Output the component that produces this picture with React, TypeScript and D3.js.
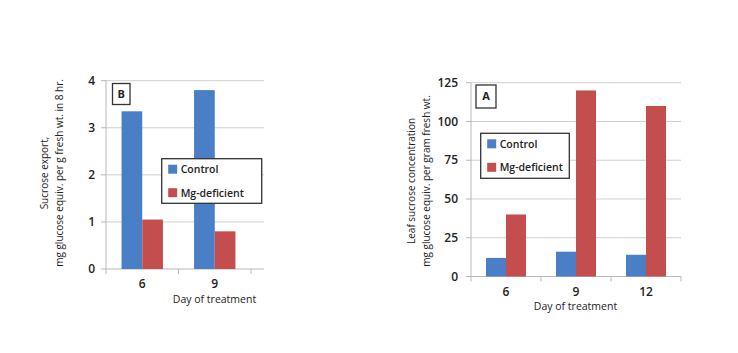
import React from "react";
import * as d3 from "d3";

const daysB = ["6", "9"];
const controlB = [3.35, 3.8];
const mgB = [1.05, 0.8];
const ticksB = [0, 1, 2, 3, 4];

const daysA = ["6", "9", "12"];
const controlA = [12, 16, 14];
const mgA = [40, 120, 110];
const ticksA = [0, 25, 50, 75, 100, 125];

const seriesNames = ["Control", "Mg-deficient"];
const BLUE = "#4a7ec6";
const RED = "#c44d4d";
const FONT = "'Open Sans', Lato, sans-serif";
const GRID = "#cfcfcf";
const AXIS = "#b8b8b8";
const TEXT = "#222";

type PanelProps = {
  days: string[];
  control: number[];
  mg: number[];
  ticks: number[];
  yMax: number;
  x0: number;
  x1: number;
  gridEnd: number;
  yTop: number;
  yBottom: number;
  barW: number;
  letter: string;
  letterBox: [number, number, number, number];
  legendBox: [number, number, number, number];
  yLabel: string[];
  yLabelX: [number, number];
  yLabelY: number;
  tickLabelX: number;
  xTickY: number;
  xTitleX: number;
  xTitleY: number;
};

function Panel(p: PanelProps) {
  const x = d3.scaleBand<string>().domain(p.days).range([p.x0, p.x1]).padding(0);
  const y = d3.scaleLinear().domain([0, p.yMax]).range([p.yBottom, p.yTop]);
  const bounds = [p.x0, ...p.days.map((d) => (x(d) as number) + x.bandwidth())];
  const [lx, ly, lw, lh] = p.legendBox;
  const [bx, by, bw, bh] = p.letterBox;
  return (
    <g>
      {p.ticks.map((t) => (
        <g key={t}>
          {t > 0 && (
            <line x1={p.x0} x2={p.gridEnd} y1={y(t)} y2={y(t)} stroke={GRID} strokeWidth={1} />
          )}
          <line x1={p.x0 - 5} x2={p.x0} y1={y(t)} y2={y(t)} stroke={AXIS} />
          <text
            x={p.tickLabelX}
            y={y(t)}
            dy="0.35em"
            textAnchor="end"
            fontSize={12}
            fontWeight={600}
            fill={TEXT}
            fontFamily={FONT}
          >
            {t}
          </text>
        </g>
      ))}
      <line x1={p.x0} x2={p.x0} y1={p.yTop} y2={p.yBottom} stroke={AXIS} />
      <line x1={p.x0} x2={p.gridEnd} y1={p.yBottom} y2={p.yBottom} stroke={AXIS} />
      {bounds.map((b, i) => (
        <line key={i} x1={b} x2={b} y1={p.yBottom} y2={p.yBottom + 5} stroke={AXIS} />
      ))}
      {p.days.map((d, i) => {
        const cx = (x(d) as number) + x.bandwidth() / 2;
        return (
          <g key={d}>
            <rect
              x={cx - p.barW}
              width={p.barW}
              y={y(p.control[i])}
              height={y(0) - y(p.control[i])}
              fill={BLUE}
            />
            <rect
              x={cx}
              width={p.barW}
              y={y(p.mg[i])}
              height={y(0) - y(p.mg[i])}
              fill={RED}
            />
            <text
              x={cx}
              y={p.xTickY}
              textAnchor="middle"
              fontSize={12}
              fontWeight={600}
              fill={TEXT}
              fontFamily={FONT}
            >
              {d}
            </text>
          </g>
        );
      })}
      <text x={p.xTitleX} y={p.xTitleY} textAnchor="middle" fontSize={10.5} fill={TEXT} fontFamily={FONT}>
        Day of treatment
      </text>
      {p.yLabel.map((s, i) => (
        <text
          key={i}
          transform={`translate(${p.yLabelX[i]},${p.yLabelY}) rotate(-90)`}
          textAnchor="middle"
          fontSize={10}
          fill={TEXT}
          fontFamily={FONT}
        >
          {s}
        </text>
      ))}
      <rect x={bx} y={by} width={bw} height={bh} fill="white" stroke="#333" strokeWidth={1.3} />
      <text
        x={bx + bw / 2}
        y={by + bh / 2}
        dy="0.36em"
        textAnchor="middle"
        fontSize={11}
        fontWeight={700}
        fill={TEXT}
        fontFamily={FONT}
      >
        {p.letter}
      </text>
      <rect x={lx} y={ly} width={lw} height={lh} fill="white" stroke="#333" strokeWidth={1.3} />
      {seriesNames.map((s, i) => {
        const yy = ly + 6 + i * 23.5;
        return (
          <g key={s}>
            <rect x={lx + 6.5} y={yy} width={9} height={9} fill={i === 0 ? BLUE : RED} />
            <text
              x={lx + 19}
              y={yy + 8.5}
              fontSize={10.5}
              fontWeight={600}
              fill={TEXT}
              fontFamily={FONT}
            >
              {s}
            </text>
          </g>
        );
      })}
    </g>
  );
}

export default function App() {
  return (
    <svg
      width={738}
      height={353}
      style={{ position: "absolute", left: 0, top: 0, background: "white" }}
    >
      <rect width={738} height={353} fill="white" />
      <Panel
        days={daysB}
        control={controlB}
        mg={mgB}
        ticks={ticksB}
        yMax={4}
        x0={106}
        x1={251}
        gridEnd={264}
        yTop={80.7}
        yBottom={269}
        barW={20.7}
        letter="B"
        letterBox={[112.5, 83.5, 17.5, 21]}
        legendBox={[161.7, 158.7, 100, 44.6]}
        yLabel={["Sucrose export,", "mg glucose equiv. per g fresh wt. in 8 hr."]}
        yLabelX={[48, 63]}
        yLabelY={173}
        tickLabelX={95}
        xTickY={288}
        xTitleX={214.5}
        xTitleY={303}
      />
      <Panel
        days={daysA}
        control={controlA}
        mg={mgA}
        ticks={ticksA}
        yMax={125}
        x0={471}
        x1={681}
        gridEnd={681}
        yTop={82.7}
        yBottom={276.5}
        barW={20}
        letter="A"
        letterBox={[476, 85, 20, 23]}
        legendBox={[480.7, 133.3, 88.6, 45]}
        yLabel={["Leaf sucrose concentration", "mg glucose equiv. per gram fresh wt."]}
        yLabelX={[415, 430]}
        yLabelY={181}
        tickLabelX={458}
        xTickY={296}
        xTitleX={575.5}
        xTitleY={310}
      />
    </svg>
  );
}
